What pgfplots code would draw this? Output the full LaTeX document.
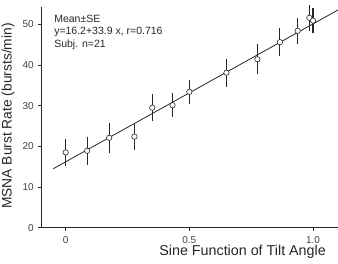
\documentclass[border=0pt]{standalone}
\usepackage{fontspec}
\setmainfont{Liberation Sans}
\usepackage{graphicx}
\usepackage{pgfplots}
\usepackage{pgfplotstable}
\pgfplotsset{compat=1.18}

% sine of tilt angle, mean burst rate, standard error
\pgfplotstableread{
x      y     e
0.000  18.5  2.50
0.087  18.9  2.75
0.176  22.1  2.95
0.278  22.4  2.45
0.350  29.5  2.65
0.432  30.1  2.15
0.500  33.4  2.25
0.650  38.1  2.75
0.775  41.4  2.90
0.866  45.6  2.75
0.938  48.4  2.40
0.985  51.6  2.40
1.000  50.9  2.25
}\burst

\begin{document}
\begin{tikzpicture}
\begin{axis}[
  at={(0,0)}, anchor=south west,
  scale only axis,
  width=296.3pt, height=220.7pt,
  xmin=-0.097, xmax=1.101,
  ymin=0, ymax=54.25,
  axis lines=left,
  axis line style={-, line width=1pt, black!85},
  tick align=outside,
  major tick length=3.5pt,
  tick style={line width=0.8pt, black!85},
  xtick={0,0.5,1},
  xticklabels={0,0.5,1.0},
  ytick={0,10,20,30,40,50},
  /pgf/number format/assume math mode=true,
  tick label style={font=\fontsize{10}{12}\selectfont, text=black!75},
  xticklabel style={yshift=-1.5pt},
  yticklabel style={xshift=-1pt},
  clip=false,
]
% regression line y = 16.2 + 33.9 x
\addplot[black!85, line width=0.8pt] coordinates {(-0.05,14.5) (1.101,53.52)};
% group means with error bars
\addplot[only marks, mark=*, mark size=2.7pt,
  mark options={fill=white, draw=black!85, line width=0.6pt},
  error bars/.cd, y dir=both, y explicit,
  error mark=-, error mark options={mark size=3pt, line width=1.2pt, black!85},
  error bar style={line width=1.2pt, black!85}]
  table[x=x, y=y, y error=e] {\burst};
\node[anchor=base west, inner sep=0, font=\fontsize{10.5}{12}\selectfont, text=black!85] at (axis cs:-0.047,50.4) {Mean±SE};
\node[anchor=base west, inner sep=0, font=\fontsize{10.5}{12}\selectfont, text=black!85] at (axis cs:-0.047,47.37) {y=16.2+33.9 x, r=0.716};
\node[anchor=base west, inner sep=0, font=\fontsize{10.5}{12}\selectfont, text=black!85] at (axis cs:-0.047,44.35) {Subj. n=21};
% axis titles
\node[anchor=base, inner sep=0, yshift=-27.5pt, font=\fontsize{14.3}{17}\selectfont, text=black!85]
  at (axis description cs:0.678,0) {Sine Function of Tilt Angle};
\node[anchor=east, inner sep=0, xshift=-27pt, font=\fontsize{13.8}{17}\selectfont, text=black!85]
  at (axis description cs:0,0.506) {\rotatebox{90}{MSNA Burst Rate (bursts/min)}};
\end{axis}
\pgfresetboundingbox
\path[use as bounding box] (-41.7pt,-36.3pt) rectangle (296.3pt,227.7pt);
\end{tikzpicture}
\end{document}
